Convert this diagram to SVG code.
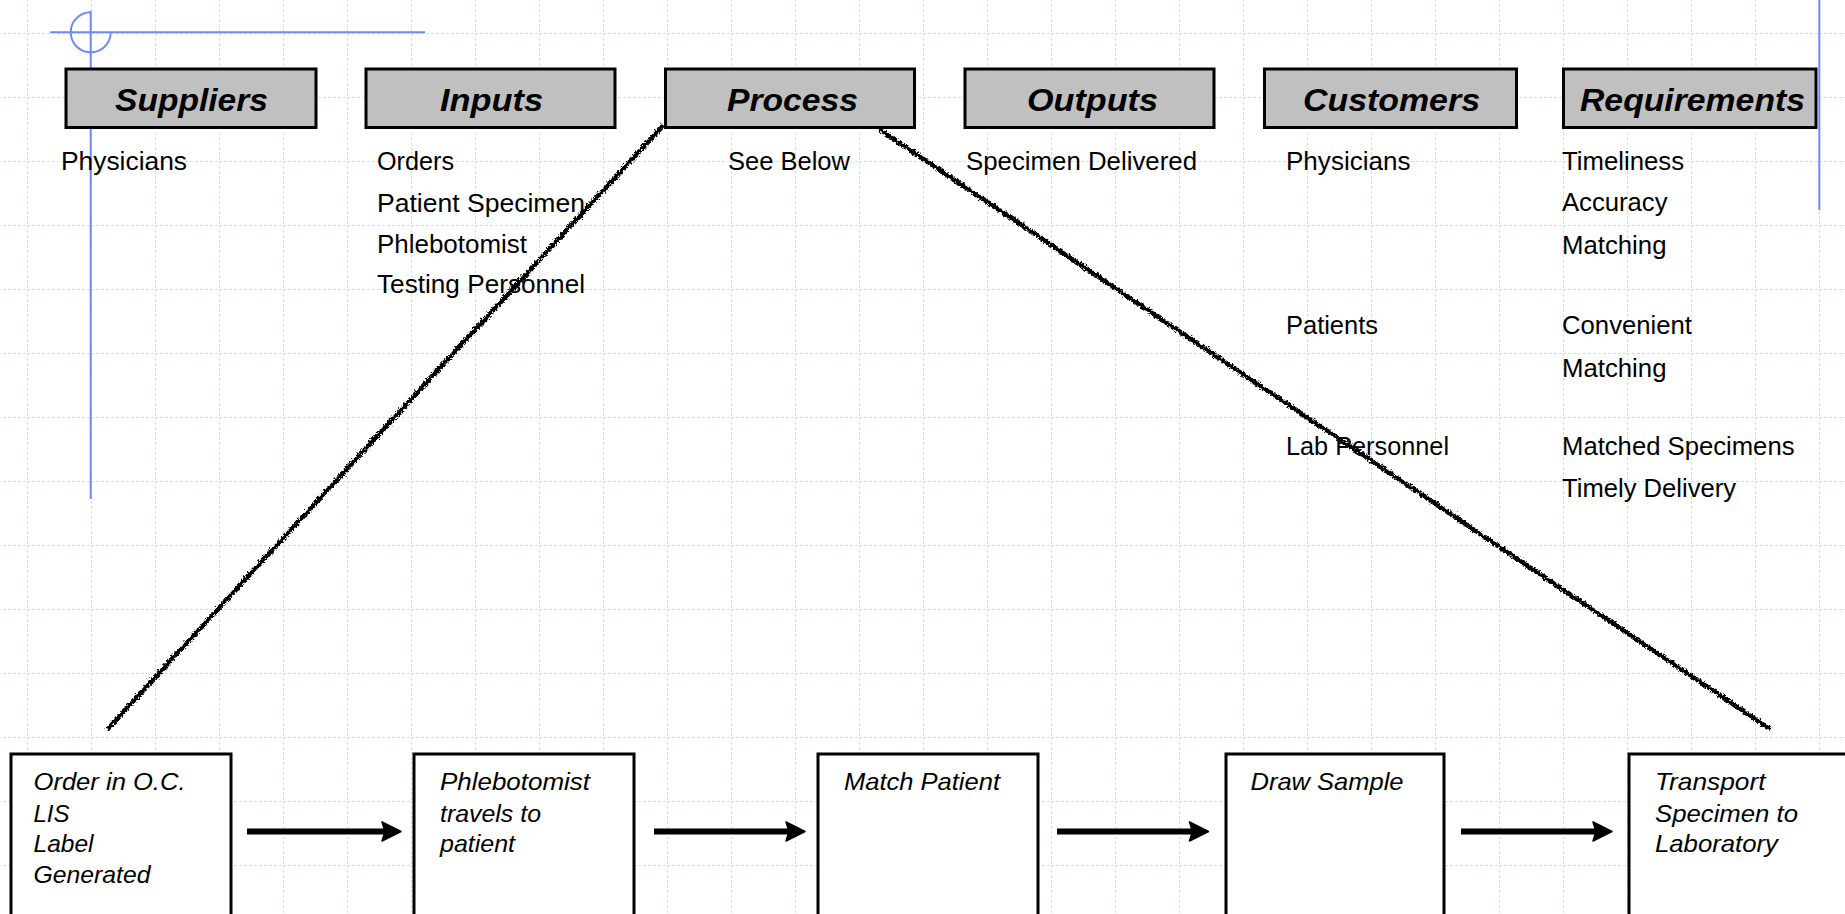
<svg xmlns="http://www.w3.org/2000/svg" width="1845" height="914" viewBox="0 0 1845 914">
  <defs>
    <pattern id="grid" x="27" y="33" width="64" height="64" patternUnits="userSpaceOnUse">
      <line x1="0" y1="0" x2="64" y2="0" stroke="#d4dcfb" stroke-width="2" stroke-dasharray="3 2"/>
      <line x1="0" y1="0" x2="0" y2="64" stroke="#d4dcfb" stroke-width="2" stroke-dasharray="3 2"/>
    </pattern>
    <filter id="rough" filterUnits="userSpaceOnUse" x="0" y="0" width="1845" height="914">
      <feTurbulence type="turbulence" baseFrequency="0.35" numOctaves="2" seed="7" result="n"/>
      <feDisplacementMap in="SourceGraphic" in2="n" scale="5" xChannelSelector="R" yChannelSelector="G"/>
    </filter>
    <marker id="ah" markerUnits="userSpaceOnUse" markerWidth="24" markerHeight="24" viewBox="0 -12 24 24" refX="9" refY="0" orient="auto" overflow="visible">
      <path d="M0,-9.5 L19,0 L0,9.5 L3,0 Z" fill="#000" stroke="#000" stroke-width="1.5" stroke-linejoin="round"/>
    </marker>
    <style>
      .hdr rect { fill: #c0c0c0; stroke: #000; stroke-width: 3; }
      .hdr text { font-family: "Liberation Sans", Arial, sans-serif; font-weight: bold; font-style: italic; font-size: 31px; fill: #000; }
      .body { font-family: "Liberation Sans", Arial, sans-serif; font-size: 25px; fill: #000; }
      .step rect { fill: #fff; stroke: #000; stroke-width: 3; }
      .step text { font-family: "Liberation Sans", Arial, sans-serif; font-style: italic; font-size: 24px; fill: #000; }
      .blue { stroke: #6f8af2; stroke-width: 2; fill: none; }
      .arrow { stroke: #000; stroke-width: 6; fill: none; marker-end: url(#ah); }
      .diag { stroke: #000; stroke-width: 4.5; fill: none; filter: url(#rough); }
    </style>
  </defs>

  <rect x="0" y="0" width="1845" height="914" fill="#fff"/>
  <rect x="0" y="0" width="1845" height="914" fill="url(#grid)"/>

  <g id="guides">
    <line class="blue" x1="50" y1="32.3" x2="425" y2="32.3"/>
    <line class="blue" x1="90.7" y1="10.7" x2="90.7" y2="499"/>
    <path class="blue" d="M90.7,12.3 A20,20 0 1,0 110.7,32.3"/>
    <line class="blue" x1="1819.3" y1="0" x2="1819.3" y2="210"/>
  </g>

  <g id="hdr-suppliers" class="hdr">
    <rect x="66" y="69" width="250" height="58.5"/>
    <text x="115" y="111" textLength="153" lengthAdjust="spacingAndGlyphs">Suppliers</text>
  </g>
  <g id="hdr-inputs" class="hdr">
    <rect x="366" y="69" width="249" height="58.5"/>
    <text x="440" y="111" textLength="103" lengthAdjust="spacingAndGlyphs">Inputs</text>
  </g>
  <g id="hdr-process" class="hdr">
    <rect x="665.5" y="69" width="249" height="58.5"/>
    <text x="727" y="111" textLength="131" lengthAdjust="spacingAndGlyphs">Process</text>
  </g>
  <g id="hdr-outputs" class="hdr">
    <rect x="965" y="69" width="249" height="58.5"/>
    <text x="1027" y="111" textLength="131" lengthAdjust="spacingAndGlyphs">Outputs</text>
  </g>
  <g id="hdr-customers" class="hdr">
    <rect x="1264.5" y="69" width="252" height="58.5"/>
    <text x="1303" y="111" textLength="177" lengthAdjust="spacingAndGlyphs">Customers</text>
  </g>
  <g id="hdr-requirements" class="hdr">
    <rect x="1563.5" y="69" width="252.5" height="58.5"/>
    <text x="1580" y="111" textLength="225" lengthAdjust="spacingAndGlyphs">Requirements</text>
  </g>

  <g id="col-suppliers" class="body">
    <text x="61" y="170" textLength="126" lengthAdjust="spacingAndGlyphs">Physicians</text>
  </g>
  <g id="col-inputs" class="body">
    <text x="377" y="170" textLength="77" lengthAdjust="spacingAndGlyphs">Orders</text>
    <text x="377" y="212" textLength="208" lengthAdjust="spacingAndGlyphs">Patient Specimen</text>
    <text x="377" y="253" textLength="150" lengthAdjust="spacingAndGlyphs">Phlebotomist</text>
    <text x="377" y="293" textLength="208" lengthAdjust="spacingAndGlyphs">Testing Personnel</text>
  </g>
  <g id="col-process" class="body">
    <text x="728" y="170" textLength="122" lengthAdjust="spacingAndGlyphs">See Below</text>
  </g>
  <g id="col-outputs" class="body">
    <text x="966" y="170" textLength="231" lengthAdjust="spacingAndGlyphs">Specimen Delivered</text>
  </g>
  <g id="col-customers" class="body">
    <text x="1286" y="170" textLength="124.5" lengthAdjust="spacingAndGlyphs">Physicians</text>
    <text x="1286" y="334" textLength="92" lengthAdjust="spacingAndGlyphs">Patients</text>
    <text x="1286" y="455" textLength="163" lengthAdjust="spacingAndGlyphs">Lab Personnel</text>
  </g>
  <g id="col-requirements" class="body">
    <text x="1562" y="170" textLength="122" lengthAdjust="spacingAndGlyphs">Timeliness</text>
    <text x="1562" y="211" textLength="105.5" lengthAdjust="spacingAndGlyphs">Accuracy</text>
    <text x="1562" y="254" textLength="104.5" lengthAdjust="spacingAndGlyphs">Matching</text>
    <text x="1562" y="334" textLength="130" lengthAdjust="spacingAndGlyphs">Convenient</text>
    <text x="1562" y="377" textLength="104.5" lengthAdjust="spacingAndGlyphs">Matching</text>
    <text x="1562" y="455" textLength="232.5" lengthAdjust="spacingAndGlyphs">Matched Specimens</text>
    <text x="1562" y="497" textLength="174" lengthAdjust="spacingAndGlyphs">Timely Delivery</text>
  </g>

  <g id="connectors">
    <line class="diag" x1="106" y1="728" x2="662" y2="124"/>
    <line class="diag" x1="878" y1="128" x2="1769" y2="728"/>
    <line class="arrow" x1="247" y1="831.5" x2="391" y2="831.5"/>
    <line class="arrow" x1="654" y1="831.5" x2="795" y2="831.5"/>
    <line class="arrow" x1="1057" y1="831.5" x2="1198.5" y2="831.5"/>
    <line class="arrow" x1="1461" y1="831.5" x2="1602" y2="831.5"/>
  </g>

  <g id="step-order" class="step">
    <rect x="11" y="754" width="220" height="200"/>
    <text x="33.5" y="790" textLength="152" lengthAdjust="spacingAndGlyphs">Order in O.C.</text>
    <text x="33.5" y="821.5" textLength="36" lengthAdjust="spacingAndGlyphs">LIS</text>
    <text x="33.5" y="852" textLength="60" lengthAdjust="spacingAndGlyphs">Label</text>
    <text x="33.5" y="883" textLength="117" lengthAdjust="spacingAndGlyphs">Generated</text>
  </g>
  <g id="step-travel" class="step">
    <rect x="414" y="754" width="220" height="200"/>
    <text x="440" y="790" textLength="150" lengthAdjust="spacingAndGlyphs">Phlebotomist</text>
    <text x="440" y="821.5" textLength="101" lengthAdjust="spacingAndGlyphs">travels to</text>
    <text x="440" y="852" textLength="75" lengthAdjust="spacingAndGlyphs">patient</text>
  </g>
  <g id="step-match" class="step">
    <rect x="818" y="754" width="220" height="200"/>
    <text x="844" y="790" textLength="156" lengthAdjust="spacingAndGlyphs">Match Patient</text>
  </g>
  <g id="step-draw" class="step">
    <rect x="1226" y="754" width="218" height="200"/>
    <text x="1250.5" y="790" textLength="153" lengthAdjust="spacingAndGlyphs">Draw Sample</text>
  </g>
  <g id="step-transport" class="step">
    <rect x="1629" y="754" width="230" height="200"/>
    <text x="1655" y="790" textLength="110.5" lengthAdjust="spacingAndGlyphs">Transport</text>
    <text x="1655" y="821.5" textLength="143" lengthAdjust="spacingAndGlyphs">Specimen to</text>
    <text x="1655" y="852" textLength="123" lengthAdjust="spacingAndGlyphs">Laboratory</text>
  </g>
</svg>
